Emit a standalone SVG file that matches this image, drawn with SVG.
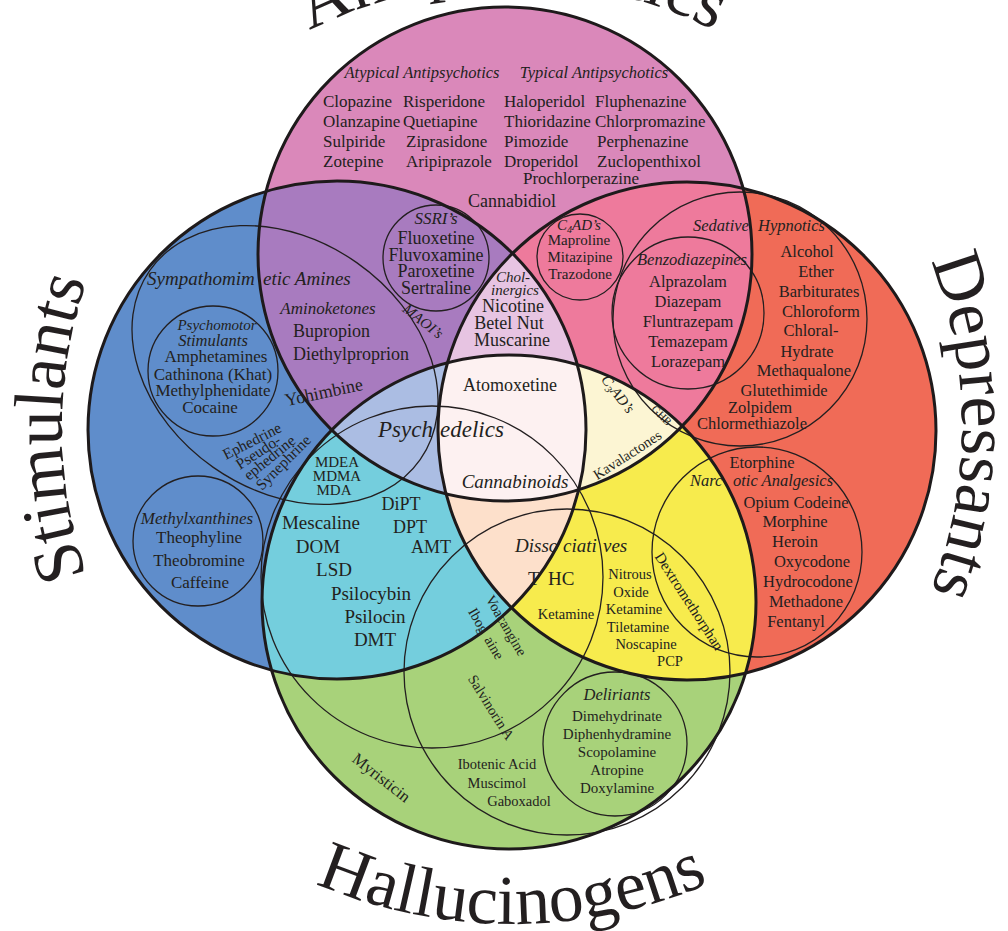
<svg xmlns="http://www.w3.org/2000/svg" width="1008" height="931" viewBox="0 0 1008 931">
<style>
text{font-family:"Liberation Serif","Times New Roman",serif;fill:#231f20}
.it{font-style:italic}
.m{text-anchor:middle}
.thick{fill:none;stroke:#1e1a1b;stroke-width:3}
.thin{fill:none;stroke:#231f20;stroke-width:1.3}
.title{font-size:70px}
.f14{font-size:14.5px}.f15{font-size:15px}.f16{font-size:16.5px}.f17{font-size:17px}.f18{font-size:18px}.f19{font-size:19px}
</style>
<defs>
<clipPath id="cT"><circle cx="505" cy="254" r="247"/></clipPath>
<clipPath id="cL"><circle cx="337" cy="430" r="249"/></clipPath>
<clipPath id="cR"><circle cx="687" cy="431" r="249"/></clipPath>
<clipPath id="cB"><circle cx="509" cy="602" r="247"/></clipPath>
<path id="pT" d="M 66,428 A 446 446 0 0 1 958,428"/>
<path id="pB" d="M 16,428 A 496 496 0 0 0 1008,428"/>
<path id="pL" d="M 512,878 A 450 450 0 0 1 512,-22"/>
<path id="pR" d="M 512,-24 A 450 450 0 0 1 512,876"/>
</defs>
<rect width="1008" height="931" fill="#ffffff"/>
<g id="regions">
<circle cx="505" cy="254" r="247" fill="#DA88BA"/>
<circle cx="337" cy="430" r="249" fill="#5F8DCB"/>
<circle cx="687" cy="431" r="249" fill="#F06B57"/>
<circle cx="509" cy="602" r="247" fill="#A8D27A"/>
<circle cx="505" cy="254" r="247" fill="#A87BBF" clip-path="url(#cL)"/>
<circle cx="505" cy="254" r="247" fill="#EE7A9C" clip-path="url(#cR)"/>
<circle cx="337" cy="430" r="249" fill="#74CEDD" clip-path="url(#cB)"/>
<circle cx="687" cy="431" r="249" fill="#F7EB4D" clip-path="url(#cB)"/>
<g clip-path="url(#cR)"><circle cx="505" cy="254" r="247" fill="#E7C4E2" clip-path="url(#cL)"/></g>
<g clip-path="url(#cB)"><circle cx="505" cy="254" r="247" fill="#ABBDE3" clip-path="url(#cL)"/></g>
<g clip-path="url(#cB)"><circle cx="505" cy="254" r="247" fill="#FCF5D3" clip-path="url(#cR)"/></g>
<g clip-path="url(#cB)"><circle cx="337" cy="430" r="249" fill="#FDE0CB" clip-path="url(#cR)"/></g>
<g clip-path="url(#cB)"><g clip-path="url(#cR)"><circle cx="505" cy="254" r="247" fill="#FDF1F1" clip-path="url(#cL)"/></g></g>
</g>
<g id="subgroups">
<circle class="thin" cx="436" cy="258" r="53"/>
<circle class="thin" cx="580" cy="257" r="43"/>
<circle class="thin" cx="740" cy="319" r="127"/>
<circle class="thin" cx="688" cy="313" r="76"/>
<ellipse class="thin" cx="285" cy="365" rx="165" ry="125" transform="rotate(35 285 365)"/>
<circle class="thin" cx="213" cy="371" r="65"/>
<circle class="thin" cx="198" cy="541" r="65"/>
<circle class="thin" cx="432" cy="577" r="171"/>
<circle class="thin" cx="567" cy="672" r="163"/>
<circle class="thin" cx="757" cy="552" r="105"/>
<circle class="thin" cx="615" cy="744" r="72"/>
</g>
<g id="outlines">
<circle class="thick" cx="505" cy="254" r="247"/>
<circle class="thick" cx="337" cy="430" r="249"/>
<circle class="thick" cx="687" cy="431" r="249"/>
<circle class="thick" cx="509" cy="602" r="247"/>
</g>
<g id="titles">
<text class="title"><textPath href="#pT" startOffset="50%" text-anchor="middle">Antipsychotics</textPath></text>
<text class="title"><textPath href="#pB" startOffset="50%" text-anchor="middle">Hallucinogens</textPath></text>
<text class="title"><textPath href="#pL" startOffset="50%" text-anchor="middle">Stimulants</textPath></text>
<text class="title"><textPath href="#pR" startOffset="50%" text-anchor="middle">Depressants</textPath></text>
</g>
<g id="antipsychotics">
<text class="it f16 m" x="422" y="78">Atypical Antipsychotics</text>
<text class="it f16 m" x="594" y="78">Typical Antipsychotics</text>
<text class="f17" x="323" y="107">Clopazine</text>
<text class="f17" x="323" y="127">Olanzapine</text>
<text class="f17" x="323" y="147">Sulpiride</text>
<text class="f17" x="323" y="167">Zotepine</text>
<text class="f17" x="403" y="107">Risperidone</text>
<text class="f17" x="403" y="127">Quetiapine</text>
<text class="f17" x="406" y="147">Ziprasidone</text>
<text class="f17" x="406" y="167">Aripiprazole</text>
<text class="f17" x="504" y="107">Haloperidol</text>
<text class="f17" x="504" y="127">Thioridazine</text>
<text class="f17" x="504" y="147">Pimozide</text>
<text class="f17" x="504" y="167">Droperidol</text>
<text class="f17" x="595" y="107">Fluphenazine</text>
<text class="f17" x="595" y="127">Chlorpromazine</text>
<text class="f17" x="597" y="147">Perphenazine</text>
<text class="f17" x="597" y="167">Zuclopenthixol</text>
<text class="f17" x="523" y="184">Prochlorperazine</text>
<text class="f18 m" x="512" y="207">Cannabidiol</text>
</g>
<g id="ssri">
<text class="it f17 m" x="436" y="224">SSRI’s</text>
<text class="f18 m" x="436" y="244">Fluoxetine</text>
<text class="f18 m" x="436" y="261">Fluvoxamine</text>
<text class="f18 m" x="436" y="277">Paroxetine</text>
<text class="f18 m" x="436" y="294">Sertraline</text>
</g>
<g id="cholinergics">
<text class="it f15 m" x="513" y="282">Chol-</text>
<text class="it f15 m" x="515" y="295">inergics</text>
<text class="f18 m" x="513" y="312">Nicotine</text>
<text class="f18 m" x="509" y="329">Betel Nut</text>
<text class="f18 m" x="512" y="346">Muscarine</text>
</g>
<g id="c4ad">
<text class="it f15 m" x="579" y="230">C<tspan font-size="10" dy="3">4</tspan><tspan dy="-3">AD’s</tspan></text>
<text class="f15 m" x="579" y="245">Maproline</text>
<text class="f15 m" x="580" y="262">Mitazipine</text>
<text class="f15 m" x="580" y="279">Trazodone</text>
</g>
<g id="sedatives">
<text class="it f16" x="693" y="231">Sedative</text>
<text class="it f16" x="758" y="231">Hypnotics</text>
<text class="f16 m" x="807" y="257">Alcohol</text>
<text class="f16 m" x="816" y="277">Ether</text>
<text class="f16 m" x="819" y="297">Barbiturates</text>
<text class="f16 m" x="821" y="317">Chloroform</text>
<text class="f16 m" x="811" y="336">Chloral-</text>
<text class="f16 m" x="807" y="357">Hydrate</text>
<text class="f16 m" x="804" y="376">Methaqualone</text>
<text class="f16 m" x="784" y="396">Glutethimide</text>
<text class="f16 m" x="760" y="413">Zolpidem</text>
<text class="f16 m" x="752" y="429">Chlormethiazole</text>
</g>
<g id="benzodiazepines">
<text class="it f16 m" x="692" y="265">Benzodiazepines</text>
<text class="f16 m" x="688" y="287">Alprazolam</text>
<text class="f16 m" x="688" y="307">Diazepam</text>
<text class="f16 m" x="688" y="327">Fluntrazepam</text>
<text class="f16 m" x="688" y="347">Temazepam</text>
<text class="f16 m" x="688" y="367">Lorazepam</text>
</g>
<g id="sympathomimetic">
<text class="it f19" x="147" y="285">Sympathomim</text>
<text class="it f19" x="263" y="285">etic Amines</text>
<text class="it f17 m" x="328" y="314">Aminoketones</text>
<text class="f18" x="293" y="337">Bupropion</text>
<text class="f18" x="293" y="360">Diethylproprion</text>
<text class="it f15 m" transform="translate(420 325) rotate(38)">MAOI’s</text>
<text class="f18 m" transform="translate(325 398) rotate(-12)">Yohimbine</text>
<text style="font-size:15.5px" transform="translate(226 460) rotate(-27)">Ephedrine</text>
<text style="font-size:15.5px" transform="translate(240 470) rotate(-33)">Pseudo-</text>
<text style="font-size:15.5px" transform="translate(249 481) rotate(-39)">ephedrine</text>
<text style="font-size:15.5px" transform="translate(262 491) rotate(-45)">Synephrine</text>
</g>
<g id="psychomotor">
<text class="it f15 m" x="217" y="330">Psychomotor</text>
<text class="it f16 m" x="213" y="346">Stimulants</text>
<text class="f17 m" x="216" y="362">Amphetamines</text>
<text class="f17 m" x="213" y="380">Cathinona (Khat)</text>
<text class="f17 m" x="213" y="396">Methylphenidate</text>
<text class="f17 m" x="210" y="413">Cocaine</text>
</g>
<g id="methylxanthines">
<text class="it f17 m" x="197" y="524">Methylxanthines</text>
<text class="f17 m" x="199" y="543">Theophyline</text>
<text class="f17 m" x="199" y="566">Theobromine</text>
<text class="f17 m" x="200" y="588">Caffeine</text>
</g>
<g id="psychedelics">
<text class="it" style="font-size:23px" x="378" y="437">Psych<tspan x="440">edelics</tspan></text>
<text class="f15 m" x="337" y="467">MDEA</text>
<text class="f15 m" x="337" y="481">MDMA</text>
<text class="f15 m" x="334" y="495">MDA</text>
<text class="f18 m" x="401" y="510">DiPT</text>
<text class="f19 m" x="321" y="529">Mescaline</text>
<text class="f18 m" x="410" y="533">DPT</text>
<text class="f19 m" x="318" y="553">DOM</text>
<text class="f18 m" x="431" y="553">AMT</text>
<text class="f19 m" x="334" y="576">LSD</text>
<text class="f19 m" x="371" y="600">Psilocybin</text>
<text class="f19 m" x="375" y="623">Psilocin</text>
<text class="f19 m" x="375" y="646">DMT</text>
<text class="f14 m" transform="translate(502 628) rotate(60)">Voacangine</text>
<text class="f14 m" transform="translate(482 636) rotate(60)">Ibog<tspan dx="6">aine</tspan></text>
<text class="f14 m" transform="translate(487 710) rotate(58)">Salvinorin A</text>
</g>
<g id="center">
<text class="f18 m" x="510" y="391">Atomoxetine</text>
<text class="it f19 m" x="515" y="488">Cannabinoids</text>
</g>
<g id="c3ad">
<text class="it f15 m" transform="translate(614 397) rotate(52)">C<tspan font-size="10" dy="3">3</tspan><tspan dy="-3">AD’s</tspan></text>
<text class="m" style="font-size:11px" transform="translate(659 418) rotate(45)">GHB</text>
<text class="f14 m" transform="translate(630 459) rotate(-33)">Kavalactones</text>
</g>
<g id="dissociatives">
<text class="it f19" x="515" y="552">Disso<tspan x="563">ciati</tspan><tspan x="603">ves</tspan></text>
<text class="f19" x="528" y="585">T<tspan x="548">HC</tspan></text>
<text class="f14 m" x="566" y="619">Ketamine</text>
<text class="f14 m" x="630" y="579">Nitrous</text>
<text class="f14 m" x="631" y="597">Oxide</text>
<text class="f14 m" x="634" y="614">Ketamine</text>
<text class="f14 m" x="638" y="632">Tiletamine</text>
<text class="f14 m" x="646" y="649">Noscapine</text>
<text class="f14 m" x="670" y="666">PCP</text>
<text class="f15 m" transform="translate(685 604) rotate(57)">Dextromethorphan</text>
<text class="f14 m" x="497" y="769">Ibotenic Acid</text>
<text class="f14 m" x="497" y="788">Muscimol</text>
<text class="f14 m" x="519" y="806">Gaboxadol</text>
<text class="f16 m" transform="translate(378 782) rotate(38)">Myristicin</text>
</g>
<g id="narcotics">
<text class="f16 m" x="762" y="468">Etorphine</text>
<text class="it f16" x="690" y="486">Narc</text>
<text class="it f16" x="733" y="486">otic Analgesics</text>
<text class="f16 m" x="796" y="508">Opium Codeine</text>
<text class="f16 m" x="795" y="527">Morphine</text>
<text class="f16 m" x="795" y="547">Heroin</text>
<text class="f16 m" x="812" y="567">Oxycodone</text>
<text class="f16 m" x="808" y="587">Hydrocodone</text>
<text class="f16 m" x="806" y="607">Methadone</text>
<text class="f16 m" x="796" y="627">Fentanyl</text>
</g>
<g id="deliriants">
<text class="it f16 m" x="617" y="700">Deliriants</text>
<text class="f15 m" x="617" y="721">Dimehydrinate</text>
<text class="f15 m" x="617" y="739">Diphenhydramine</text>
<text class="f15 m" x="617" y="757">Scopolamine</text>
<text class="f15 m" x="617" y="775">Atropine</text>
<text class="f15 m" x="617" y="793">Doxylamine</text>
</g>
</svg>
